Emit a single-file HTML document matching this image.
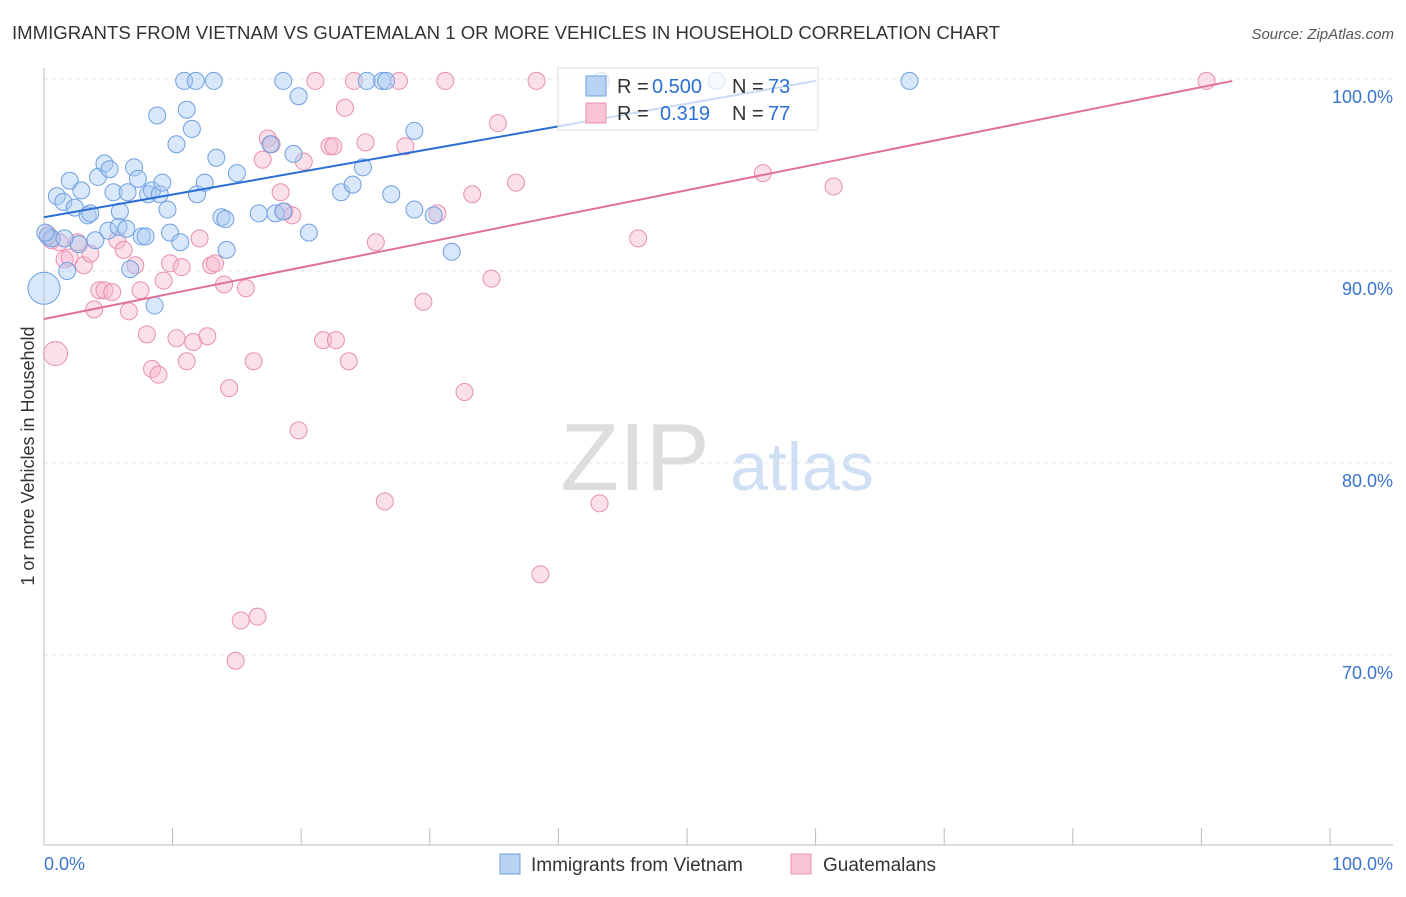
<!DOCTYPE html>
<html><head><meta charset="utf-8"><style>
body{margin:0;background:#fff;font-family:"Liberation Sans",sans-serif;}
svg text{font-family:"Liberation Sans",sans-serif;}
</style></head><body>
<svg id="chart" width="1406" height="892" viewBox="0 0 1406 892" xmlns="http://www.w3.org/2000/svg">
<text x="12" y="39" font-size="18" fill="#333" textLength="988" lengthAdjust="spacingAndGlyphs">IMMIGRANTS FROM VIETNAM VS GUATEMALAN 1 OR MORE VEHICLES IN HOUSEHOLD CORRELATION CHART</text>
<text x="1394" y="39" font-size="15" fill="#555" text-anchor="end" font-style="italic">Source: ZipAtlas.com</text>
<text transform="translate(34,456) rotate(-90)" font-size="18" fill="#333" text-anchor="middle">1 or more Vehicles in Household</text>
<g>
<text x="635" y="490" font-size="96" fill="#ddd" text-anchor="middle" font-family="Liberation Serif,serif">ZIP</text>
<text x="802" y="490" font-size="68" fill="#cfe0f4" text-anchor="middle">atlas</text>
</g>
<g id="grid"></g>
<g id="axes"></g>
<g id="marks"></g>
<g>
<rect x="558" y="68" width="260" height="62" fill="#fff" fill-opacity="0.75" stroke="#ddd"/>
<rect x="586" y="76" width="20" height="20" fill="#b8d2f4" stroke="#6fa0e0"/>
<text x="617" y="93" font-size="20" fill="#333">R = </text><text x="652" y="93" font-size="20" fill="#2a6fd6">0.500</text>
<text x="732" y="93" font-size="20" fill="#333">N = </text><text x="768" y="93" font-size="20" fill="#2a6fd6">73</text>
<rect x="586" y="103" width="20" height="20" fill="#f8c4d6" stroke="#e890b0"/>
<text x="617" y="120" font-size="20" fill="#333">R = </text><text x="660" y="120" font-size="20" fill="#2a6fd6">0.319</text>
<text x="732" y="120" font-size="20" fill="#333">N = </text><text x="768" y="120" font-size="20" fill="#2a6fd6">77</text>
</g>
<g>
<rect x="500" y="854" width="20" height="20" fill="#b8d2f4" stroke="#6fa0e0"/>
<text x="531" y="871" font-size="19" fill="#333">Immigrants from Vietnam</text>
<rect x="791" y="854" width="20" height="20" fill="#f8c4d6" stroke="#e890b0"/>
<text x="823" y="871" font-size="19" fill="#333">Guatemalans</text>
</g>
</svg>
<script>
const yTicks=[100,90,80,70];
const yTickLabels=["100.0%","90.0%","80.0%","70.0%"];
const xTicks=[0,10,20,30,40,50,60,70,80,90,100];
const xEndLabels=["0.0%","100.0%"];
const blueX=[0,0.3,1.0,0.6,1.5,2.0,2.4,3.4,3.6,4.0,2.7,2.9,4.2,4.7,5.1,5.0,5.4,5.9,5.8,6.4,6.5,7.0,7.3,7.6,7.9,8.1,8.4,8.8,9.0,9.2,9.6,9.8,10.3,10.6,10.9,11.1,11.5,11.8,11.9,12.5,13.2,13.4,13.8,14.1,14.2,15.0,16.7,17.6,18.0,18.6,18.6,19.4,19.8,20.6,23.1,24.0,24.8,25.1,26.3,26.6,27.0,28.8,28.8,30.3,31.7,43.3,52.3,67.3,8.6,6.7,1.8,1.6,0.1];
const blueY=[89.1,91.8,93.9,91.7,93.6,94.7,93.3,92.9,93.0,91.6,91.4,94.2,94.9,95.6,95.3,92.1,94.1,93.1,92.3,92.2,94.1,95.4,94.8,91.8,91.8,94.0,94.2,98.1,94.0,94.6,93.2,92.0,96.6,91.5,99.9,98.4,97.4,99.9,94.0,94.6,99.9,95.9,92.8,92.7,91.1,95.1,93.0,96.6,93.0,99.9,93.1,96.1,99.1,92.0,94.1,94.5,95.4,99.9,99.9,99.9,94.0,97.3,93.2,92.9,91.0,99.9,99.9,99.9,88.2,90.1,90.0,91.7,92.0];
const pinkX=[0.9,0.3,0.6,1.2,1.6,2.0,2.6,3.1,3.6,3.9,4.3,4.7,5.3,5.7,6.2,6.6,7.1,7.5,8.0,8.4,8.9,9.3,9.8,10.3,10.7,11.1,11.6,12.1,12.7,13.0,13.3,14.0,14.4,14.9,15.3,15.7,16.3,16.6,17.0,17.4,17.7,18.4,18.7,19.3,19.8,20.2,21.1,21.7,22.2,22.5,22.7,23.4,23.7,24.1,25.0,25.8,26.5,27.6,28.1,29.5,30.6,31.2,32.7,33.3,34.8,35.3,36.7,38.3,38.6,43.2,46.2,55.9,61.4,90.4];
const pinkY=[85.7,91.9,91.6,91.5,90.6,90.7,91.5,90.3,90.9,88.0,89.0,89.0,88.9,91.6,91.1,87.9,90.3,89.0,86.7,84.9,84.6,89.5,90.4,86.5,90.2,85.3,86.3,91.7,86.6,90.3,90.4,89.3,83.9,69.7,71.8,89.1,85.3,72.0,95.8,96.9,96.6,94.1,93.1,92.9,81.7,95.7,99.9,86.4,96.5,96.5,86.4,98.5,85.3,99.9,96.7,91.5,78.0,99.9,96.5,88.4,93.0,99.9,83.7,94.0,89.6,97.7,94.6,99.9,74.2,77.9,91.7,95.1,94.4,99.9];
const blueSize=[16];const pinkSize=[12];
const blueLine=[[0,92.8],[60,99.9]];
const pinkLine=[[0,87.5],[92.4,99.9]];
const NS="http://www.w3.org/2000/svg";
const sx=v=>44+v*12.86, sy=v=>79+(100-v)*19.2;
function mk(tag,attrs,parent){const e=document.createElementNS(NS,tag);for(const k in attrs)e.setAttribute(k,attrs[k]);document.getElementById(parent).appendChild(e);return e;}
yTicks.forEach((t,i)=>{
 const l=mk('line',{x1:44,x2:1393,y1:sy(t),y2:sy(t),stroke:'#e4e4e4','stroke-dasharray':'4,4'},'grid');
 
 
 const tx=mk('text',{x:1393,y:sy(t)+24,'font-size':18,fill:'#3a74d0','text-anchor':'end'},'axes');
 tx.textContent=yTickLabels[i];
 
 
});
const ax=mk('line',{x1:44,x2:44,y1:68,y2:845,stroke:'#bbb'},'axes');


const bx=mk('line',{x1:44,x2:1393,y1:845,y2:845,stroke:'#bbb'},'axes');


xTicks.forEach(t=>{const l=mk('line',{x1:sx(t),x2:sx(t),y1:828,y2:845,stroke:'#bbb'},'axes');
 
 });
[[0,'start',44],[1,'end',1393]].forEach(([i,a,x])=>{const t=mk('text',{x:x,y:870,'font-size':18,fill:'#3a74d0','text-anchor':a},'axes');t.textContent=xEndLabels[i];
 
 });
function pts(X,Y,big,fill,stroke,name){X.forEach((x,i)=>{const c=mk('circle',{cx:sx(x),cy:sy(Y[i]),r:i===0?big[0]:8.5,fill:fill,'fill-opacity':0.45,stroke:stroke,'stroke-width':1},'marks');
 
 });}
pts(pinkX,pinkY,pinkSize,'#f6b8cf','#e890b0','guatemalan-point');
pts(blueX,blueY,blueSize,'#a9c9f2','#6fa0e0','vietnam-point');
const bl=mk('line',{x1:sx(blueLine[0][0]),y1:sy(blueLine[0][1]),x2:sx(blueLine[1][0]),y2:sy(blueLine[1][1]),stroke:'#2a6fd6','stroke-width':2},'marks');


const pl=mk('line',{x1:sx(pinkLine[0][0]),y1:sy(pinkLine[0][1]),x2:sx(pinkLine[1][0]),y2:sy(pinkLine[1][1]),stroke:'#e0709a','stroke-width':2},'marks');


</script>
</body></html>
